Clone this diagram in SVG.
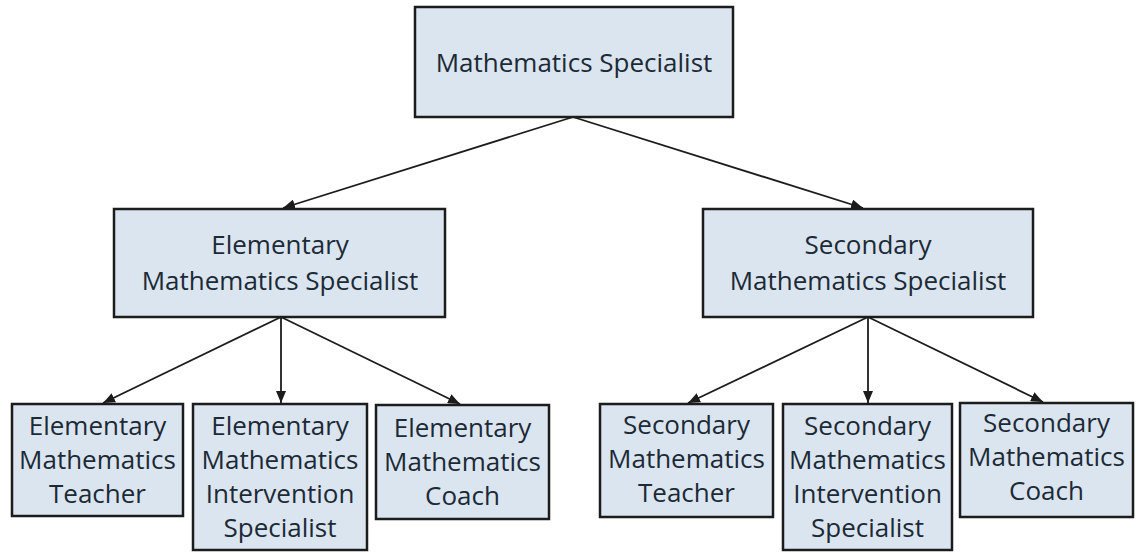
<svg xmlns="http://www.w3.org/2000/svg" width="1136" height="552" viewBox="0 0 1136 552">
  <style>
    .box { fill: #dbe5f0; stroke: #1c1c1c; stroke-width: 2.5; }
    .lbl { font-family: "Open Sans", "Noto Sans", "DejaVu Sans", sans-serif; font-size: 26px; fill: #1c2a36; text-anchor: middle; }
    .edge { stroke: #1c1c1c; stroke-width: 1.8; fill: none; marker-end: url(#arr); }
  </style>
  <defs>
    <marker id="arr" markerUnits="userSpaceOnUse" markerWidth="13" markerHeight="10" refX="12" refY="5" orient="auto">
      <path d="M0,0 L12,5 L0,10 z" fill="#1c1c1c"/>
    </marker>
  </defs>
  <rect width="1136" height="552" fill="#ffffff"/>

  <g id="connectors">
    <line class="edge" x1="573" y1="117" x2="283" y2="208"/>
    <line class="edge" x1="573" y1="117" x2="863" y2="208"/>
    <line class="edge" x1="281" y1="317" x2="103" y2="403"/>
    <line class="edge" x1="281" y1="317" x2="281" y2="403"/>
    <line class="edge" x1="281" y1="317" x2="460" y2="404"/>
    <line class="edge" x1="868" y1="317" x2="688" y2="403"/>
    <line class="edge" x1="868" y1="317" x2="868" y2="403"/>
    <line class="edge" x1="868" y1="317" x2="1043" y2="402"/>
  </g>

  <g id="math-specialist">
    <rect class="box" x="415" y="7" width="318" height="110"/>
    <text class="lbl" x="574" y="72">Mathematics Specialist</text>
  </g>

  <g id="elem-specialist">
    <rect class="box" x="114" y="209" width="331" height="108"/>
    <text class="lbl" x="280" y="254">Elementary</text>
    <text class="lbl" x="280" y="290">Mathematics Specialist</text>
  </g>

  <g id="sec-specialist">
    <rect class="box" x="703" y="209" width="330" height="108"/>
    <text class="lbl" x="868" y="254">Secondary</text>
    <text class="lbl" x="868" y="290">Mathematics Specialist</text>
  </g>

  <g id="elem-teacher">
    <rect class="box" x="12" y="404" width="171" height="112"/>
    <text class="lbl" x="97.5" y="435">Elementary</text>
    <text class="lbl" x="97.5" y="469">Mathematics</text>
    <text class="lbl" x="97.5" y="503">Teacher</text>
  </g>

  <g id="elem-intervention">
    <rect class="box" x="193" y="404" width="174" height="146"/>
    <text class="lbl" x="280" y="435">Elementary</text>
    <text class="lbl" x="280" y="469">Mathematics</text>
    <text class="lbl" x="280" y="503">Intervention</text>
    <text class="lbl" x="280" y="537">Specialist</text>
  </g>

  <g id="elem-coach">
    <rect class="box" x="376" y="405" width="173" height="114"/>
    <text class="lbl" x="462.5" y="437">Elementary</text>
    <text class="lbl" x="462.5" y="471">Mathematics</text>
    <text class="lbl" x="462.5" y="505">Coach</text>
  </g>

  <g id="sec-teacher">
    <rect class="box" x="600" y="404" width="173" height="113"/>
    <text class="lbl" x="686.5" y="434">Secondary</text>
    <text class="lbl" x="686.5" y="468">Mathematics</text>
    <text class="lbl" x="686.5" y="502">Teacher</text>
  </g>

  <g id="sec-intervention">
    <rect class="box" x="783" y="404" width="169" height="146"/>
    <text class="lbl" x="867.5" y="435">Secondary</text>
    <text class="lbl" x="867.5" y="469">Mathematics</text>
    <text class="lbl" x="867.5" y="503">Intervention</text>
    <text class="lbl" x="867.5" y="537">Specialist</text>
  </g>

  <g id="sec-coach">
    <rect class="box" x="960" y="403" width="173" height="114"/>
    <text class="lbl" x="1046.5" y="432">Secondary</text>
    <text class="lbl" x="1046.5" y="466">Mathematics</text>
    <text class="lbl" x="1046.5" y="500">Coach</text>
  </g>
</svg>
